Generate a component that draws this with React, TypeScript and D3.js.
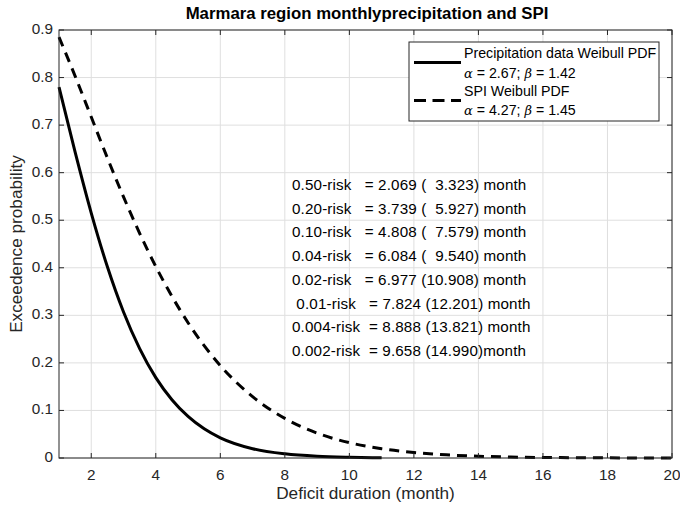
import React from "react";
import * as d3 from "d3";

const title = "Marmara region monthlyprecipitation and SPI";
const xLabel = "Deficit duration (month)";
const yLabel = "Exceedence probability";

const xTicks = [2, 4, 6, 8, 10, 12, 14, 16, 18, 20];
const yTicks = [0, 0.1, 0.2, 0.3, 0.4, 0.5, 0.6, 0.7, 0.8, 0.9];

const precipX = [1, 1.5, 2, 2.5, 3, 3.5, 4, 4.5, 5, 5.5, 6, 7, 8, 9, 10, 11];
const precipY = [0.78, 0.643, 0.515, 0.402, 0.307, 0.23, 0.169, 0.1226, 0.0874, 0.0614, 0.0425, 0.0196, 0.0087, 0.0036, 0.0015, 0.0006];

const spiX = [1, 1.5, 2, 2.5, 3, 3.5, 4, 4.5, 5, 6, 7, 8, 9, 10, 11, 12, 13, 14, 15, 16, 17, 18, 19, 20];
const spiY = [0.885, 0.803, 0.717, 0.631, 0.549, 0.4725, 0.4026, 0.34, 0.2845, 0.1944, 0.129, 0.0833, 0.0524, 0.0322, 0.0194, 0.0114, 0.0066, 0.0037, 0.0021, 0.0011, 0.0006, 0.0003, 0.00015, 0.00008];

const legendNames = ["Precipitation data Weibull PDF", "SPI Weibull PDF"];
const legendParams = [
  { a: "2.67", b: "1.42" },
  { a: "4.27", b: "1.45" },
];

const riskLines = [
  "0.50-risk   = 2.069 (  3.323) month",
  "0.20-risk   = 3.739 (  5.927) month",
  "0.10-risk   = 4.808 (  7.579) month",
  "0.04-risk   = 6.084 (  9.540) month",
  "0.02-risk   = 6.977 (10.908) month",
  " 0.01-risk   = 7.824 (12.201) month",
  "0.004-risk  = 8.888 (13.821) month",
  "0.002-risk  = 9.658 (14.990)month",
];

const W = 680;
const H = 506;
const M = { left: 59, right: 672, top: 30, bottom: 458 };
const FONT = "Liberation Sans, Arial, Helvetica, sans-serif";
const AX = "#262626";

export default function App() {
  const x = d3.scaleLinear().domain([1, 20]).range([M.left, M.right]);
  const y = d3.scaleLinear().domain([0, 0.9]).range([M.bottom, M.top]);
  const line = d3
    .line<[number, number]>()
    .x((d) => x(d[0]))
    .y((d) => y(d[1]))
    .curve(d3.curveMonotoneX);
  const precipPath = line(precipX.map((v, i) => [v, precipY[i]]) as [number, number][]) || "";
  const spiPath = line(spiX.map((v, i) => [v, spiY[i]]) as [number, number][]) || "";

  const tl = 5;
  const lgX = 409, lgY = 42, lgW = 250, lgH = 79;
  const greek = "DejaVu Serif, Liberation Serif, serif";

  return (
    <div style={{ position: "absolute", left: 0, top: 0, width: W, height: H }}>
      <svg width={W} height={H} style={{ display: "block", background: "#fff" }} fontFamily={FONT}>
        <rect x={0} y={0} width={W} height={H} fill="#fff" />
        {/* grid */}
        {xTicks.map((t) => (
          <line key={"gx" + t} x1={x(t)} x2={x(t)} y1={M.top} y2={M.bottom} stroke="#dfdfdf" strokeWidth={1} />
        ))}
        {yTicks.map((t) => (
          <line key={"gy" + t} x1={M.left} x2={M.right} y1={y(t)} y2={y(t)} stroke="#dfdfdf" strokeWidth={1} />
        ))}
        {/* curves */}
        <path d={spiPath} fill="none" stroke="#000" strokeWidth={3} strokeDasharray="10,7" />
        <path d={precipPath} fill="none" stroke="#000" strokeWidth={3} />
        {/* box */}
        <rect x={M.left} y={M.top} width={M.right - M.left} height={M.bottom - M.top} fill="none" stroke={AX} strokeWidth={1} />
        {/* ticks */}
        {xTicks.map((t) => (
          <g key={"tx" + t}>
            <line x1={x(t)} x2={x(t)} y1={M.bottom} y2={M.bottom - tl} stroke={AX} />
            <line x1={x(t)} x2={x(t)} y1={M.top} y2={M.top + tl} stroke={AX} />
            <text x={x(t)} y={476} textAnchor="middle" dominantBaseline="middle" fontSize={15.3} fill={AX}>
              {t}
            </text>
          </g>
        ))}
        {yTicks.map((t) => (
          <g key={"ty" + t}>
            <line x1={M.left} x2={M.left + tl} y1={y(t)} y2={y(t)} stroke={AX} />
            <line x1={M.right} x2={M.right - tl} y1={y(t)} y2={y(t)} stroke={AX} />
            <text x={53} y={y(t)} textAnchor="end" dominantBaseline="middle" fontSize={15.3} fill={AX}>
              {t === 0 ? "0" : t.toFixed(1)}
            </text>
          </g>
        ))}
        {/* labels */}
        <text x={(M.left + M.right) / 2} y={494} textAnchor="middle" dominantBaseline="middle" fontSize={17.2} fill={AX}>
          {xLabel}
        </text>
        <text
          transform={`translate(17,${(M.top + M.bottom) / 2}) rotate(-90)`}
          textAnchor="middle"
          dominantBaseline="middle"
          fontSize={17.2}
          fill={AX}
        >
          {yLabel}
        </text>
        <text x={367} y={15} textAnchor="middle" dominantBaseline="middle" fontSize={16.8} fontWeight="bold" fill="#000">
          {title}
        </text>
        {/* legend */}
        <rect x={lgX} y={lgY} width={lgW} height={lgH} fill="#fff" stroke={AX} strokeWidth={1} />
        <line x1={414} x2={461} y1={62.5} y2={62.5} stroke="#000" strokeWidth={3} />
        <line x1={414} x2={461} y1={100.5} y2={100.5} stroke="#000" strokeWidth={3} strokeDasharray="12,6.5" />
        {legendNames.map((n, i) => (
          <g key={"lg" + i}>
            <text x={464} y={i === 0 ? 54.5 : 92} dominantBaseline="middle" fontSize={14.2} fill="#000">
              {n}
            </text>
            <text x={464} y={i === 0 ? 73.5 : 111} dominantBaseline="middle" fontSize={14.2} fill="#000">
              <tspan fontFamily={greek} fontStyle="italic" fontSize={13}>α</tspan>
              <tspan>{` = ${legendParams[i].a}; `}</tspan>
              <tspan fontFamily={greek} fontStyle="italic" fontSize={13}>β</tspan>
              <tspan>{` = ${legendParams[i].b}`}</tspan>
            </text>
          </g>
        ))}
        {/* risk text */}
        {riskLines.map((s, i) => (
          <text
            key={"r" + i}
            x={292}
            y={186 + i * 23.7}
            dominantBaseline="middle"
            fontSize={15.2}
            letterSpacing={0.15}
            fill="#000"
            style={{ whiteSpace: "pre" }}
            xmlSpace="preserve"
          >
            {s}
          </text>
        ))}
      </svg>
    </div>
  );
}
